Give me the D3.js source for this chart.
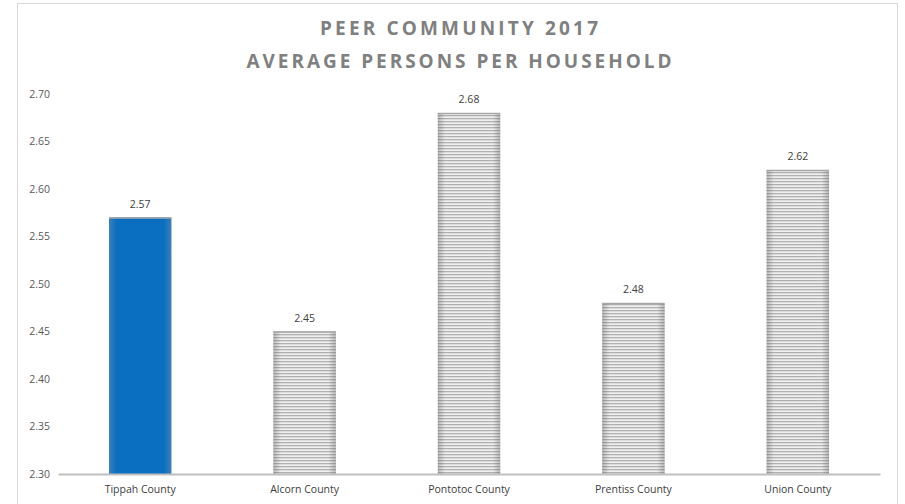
<!DOCTYPE html>
<html>
<head>
<meta charset="utf-8">
<script src="https://cdn.jsdelivr.net/npm/d3@7"></script>
<style>
  html, body { margin: 0; padding: 0; background: #fff; }
  svg { display: block; }
  text { font-family: "Open Sans", "Liberation Sans", sans-serif; }
</style>
</head>
<body>
<svg id="chart" width="905" height="504"></svg>
<script>
// Average persons per household, 2017, for Tippah County and its peers
const counties = ["Tippah County", "Alcorn County", "Pontotoc County", "Prentiss County", "Union County"];
const personsPerHousehold = [2.57, 2.45, 2.68, 2.48, 2.62];
const highlighted = ["Tippah County"];
const yTicks = [2.30, 2.35, 2.40, 2.45, 2.50, 2.55, 2.60, 2.65, 2.70];
const titleLines = ["PEER COMMUNITY 2017", "AVERAGE PERSONS PER HOUSEHOLD"];

const svg = d3.select("#chart");
const W = 905, H = 504;
const margin = { left: 58, right: 25, top: 94, bottom: 30 };

const x = d3.scaleBand()
  .domain(counties)
  .range([margin.left, W - margin.right])
  .paddingInner(0.62)
  .paddingOuter(0.31);

const y = d3.scaleLinear()
  .domain([2.30, 2.70])
  .range([H - margin.bottom, margin.top]);

const defs = svg.append("defs");

// striped fill for peer counties
const stripe = defs.append("pattern")
  .attr("id", "stripes")
  .attr("patternUnits", "userSpaceOnUse")
  .attr("width", 8).attr("height", 3);
stripe.append("rect").attr("width", 8).attr("height", 3).attr("fill", "#f0f0f0");
stripe.append("rect").attr("y", 1).attr("width", 8).attr("height", 1.3).attr("fill", "#b0b0b0");

// soft side shading across a bar
const shade = defs.append("linearGradient").attr("id", "shade")
  .attr("x1", 0).attr("x2", 1).attr("y1", 0).attr("y2", 0);
[[0, 0.35], [0.12, 0], [0.88, 0], [1, 0.35]].forEach(([o, a]) =>
  shade.append("stop").attr("offset", o).attr("stop-color", "#555").attr("stop-opacity", a));

const blue = defs.append("linearGradient").attr("id", "blueFill")
  .attr("x1", 0).attr("x2", 1).attr("y1", 0).attr("y2", 0);
[[0, "#3f7fb8"], [0.12, "#0a6fc0"], [0.88, "#0a6fc0"], [1, "#3f7fb8"]].forEach(([o, c]) =>
  blue.append("stop").attr("offset", o).attr("stop-color", c));

// chart frame
svg.append("rect")
  .attr("x", 17.5).attr("y", 3.5)
  .attr("width", 880).attr("height", 520)
  .attr("fill", "#fff").attr("stroke", "#d9d9d9").attr("stroke-width", 1);

// title
svg.append("g").selectAll("text")
  .data(titleLines)
  .join("text")
  .attr("x", (W + 17) / 2 - 2)
  .attr("y", (d, i) => 35 + i * 33)
  .attr("text-anchor", "middle")
  .attr("font-size", 19)
  .attr("font-weight", "bold")
  .attr("fill", "#808080")
  .attr("textLength", (d, i) => i === 0 ? 278 : 425)
  .attr("lengthAdjust", "spacing")
  .text(d => d);

// y axis labels (no axis line)
const yAxis = svg.append("g")
  .attr("transform", `translate(${margin.left - 8},0)`)
  .call(d3.axisLeft(y).tickValues(yTicks).tickFormat(d3.format(".2f")).tickSize(0).tickPadding(0));
yAxis.select(".domain").remove();
yAxis.selectAll("text")
  .attr("font-size", 10.5)
  .attr("fill", "#595959")
  .attr("font-family", "\"Open Sans\", sans-serif");

// bars
const bars = svg.append("g").selectAll("g")
  .data(counties.map((c, i) => ({ county: c, value: personsPerHousehold[i] })))
  .join("g");

bars.append("rect")
  .attr("x", d => x(d.county))
  .attr("y", d => y(d.value))
  .attr("width", x.bandwidth())
  .attr("height", d => y(2.30) - y(d.value))
  .attr("fill", d => highlighted.includes(d.county) ? "url(#blueFill)" : "url(#stripes)");

bars.filter(d => !highlighted.includes(d.county)).append("rect")
  .attr("x", d => x(d.county))
  .attr("y", d => y(d.value))
  .attr("width", x.bandwidth())
  .attr("height", d => y(2.30) - y(d.value))
  .attr("fill", "url(#shade)");

// thin cap line on top of each bar
bars.append("line")
  .attr("x1", d => x(d.county))
  .attr("x2", d => x(d.county) + x.bandwidth())
  .attr("y1", d => y(d.value) + 0.5)
  .attr("y2", d => y(d.value) + 0.5)
  .attr("stroke", "#a6a6a6")
  .attr("stroke-width", 1.5);

// value labels
bars.append("text")
  .attr("x", d => x(d.county) + x.bandwidth() / 2)
  .attr("y", d => y(d.value) - 10)
  .attr("text-anchor", "middle")
  .attr("font-size", 10.5)
  .attr("fill", "#404040")
  .text(d => d.value.toFixed(2));

// x axis baseline and category labels
const xAxis = svg.append("g")
  .attr("transform", `translate(0,${y(2.30)})`)
  .call(d3.axisBottom(x).tickSize(0).tickPadding(12));
xAxis.select(".domain")
  .attr("stroke", "#bfbfbf")
  .attr("stroke-width", 2);
xAxis.selectAll("text")
  .attr("font-size", 10.5)
  .attr("fill", "#404040")
  .attr("font-family", "\"Open Sans\", sans-serif");
</script>
</body>
</html>
